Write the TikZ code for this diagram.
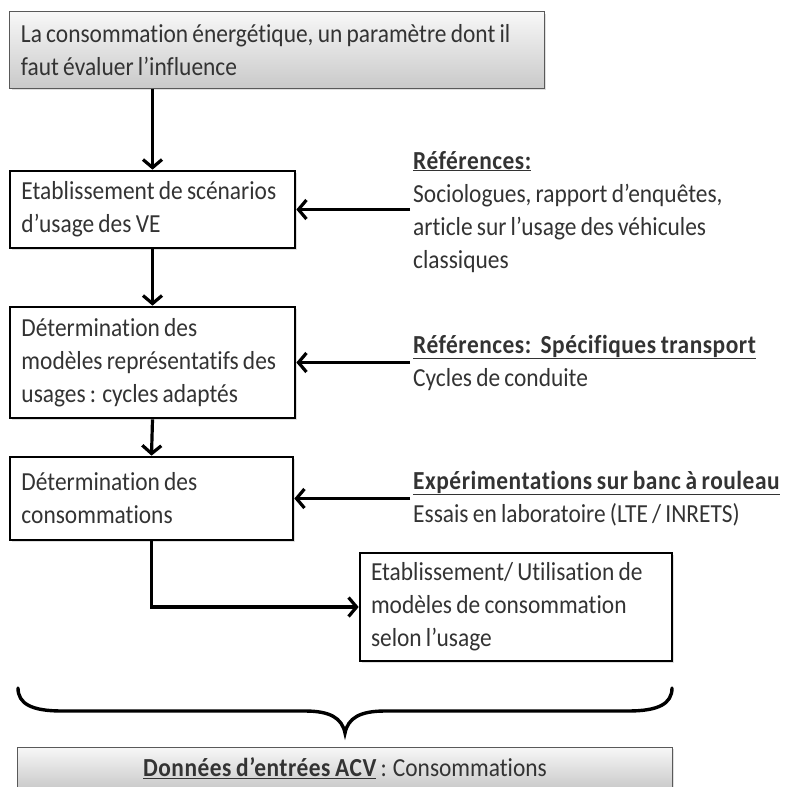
\documentclass[tikz,border=0pt]{standalone}
\usepackage{fontspec}
\setmainfont{Carlito}[FakeStretch=0.9, WordSpace=0.8, Ligatures=NoCommon]
\usetikzlibrary{arrows.meta,shadows}
\newcommand{\bfwide}[1]{{\bfseries\addfontfeatures{LetterSpace=2}#1}}
\begin{document}
\begin{tikzpicture}[x=1bp,y=-1bp,
  txt/.style={font=\fontsize{26bp}{33bp}\selectfont, text=black!80},
  boxshadow/.style={drop shadow={shadow xshift=2bp, shadow yshift=-2bp, opacity=0.25}},
  whitebox/.style={txt, rectangle, draw=black, line width=2.7bp, fill=white, align=flush left,
    inner xsep=11bp, inner ysep=0bp, boxshadow},
  graybox/.style={txt, rectangle, draw=black!65, line width=1bp, top color=gray!6, bottom color=gray!42,
    inner xsep=11bp, inner ysep=0bp, boxshadow},
  arr/.style={line width=3.2bp, draw=black, -{Straight Barb[length=8bp,width=19bp]}},
  note/.style={txt, align=flush left, inner sep=0pt, anchor=base west}
]
\clip (0,0) rectangle (787,787);
\fill[white] (0,0) rectangle (787,787);

% top box
\node[graybox, align=flush left, minimum width=534bp, minimum height=76bp, text width=512bp] (top) at (277,50)
  {La consommation énergétique, un paramètre dont il\\faut évaluer l’influence};

% main column
\node[whitebox, minimum width=285bp, minimum height=77bp, text width=262bp] (b1) at (152.5,209.5)
  {Etablissement de scénarios\\d’usage des VE};
\node[whitebox, minimum width=285bp, minimum height=111bp, text width=262bp] (b2) at (152.5,362.5)
  {Détermination des\\modèles représentatifs des\\usages : cycles adaptés};
\node[whitebox, minimum width=283bp, minimum height=83bp, text width=260bp] (b3) at (151.5,498.5)
  {Détermination des\\consommations};
\node[whitebox, minimum width=312bp, minimum height=108bp, text width=290bp] (b4) at (516,607)
  {Etablissement/ Utilisation de\\modèles de consommation\\selon l’usage};

% notes (anchored at the baseline of their last line)
\node[note] (n1) at (413,268)
  {\underline{\bfwide{Références:}}\\Sociologues, rapport d’enquêtes,\\article sur l’usage des véhicules\\classiques};
\node[note] (n2) at (413,386)
  {\underline{\bfwide{Références:\ \ Spécifiques transport}}\\Cycles de conduite};
\node[note] (n3) at (413,522)
  {\underline{\bfwide{Expérimentations sur banc à rouleau}}\\Essais en laboratoire (LTE / INRETS)};

\coordinate (r1) at (410,209.5);
\coordinate (r2) at (410,362.5);
\coordinate (r3) at (410,498.5);

% connectors
\draw[arr] (b1.north |- top.south) -- (b1.north);
\draw[arr] (b1.south) -- (b2.north);
\draw[arr] (b2.south) -- (b3.north);
\draw[arr] (b3.south) |- (b4.west);
\draw[arr] (r1) -- (b1.east);
\draw[arr] (r2) -- (b2.east);
\draw[arr] (r3) -- (b3.east);

% brace
\draw[line width=3.4bp, line cap=round]
  (18,688) .. controls (18,704) and (32,711) .. (62,711) -- (305,711)
  .. controls (330,711) and (342,718) .. (345,733)
  .. controls (348,718) and (360,711) .. (385,711) -- (628,711)
  .. controls (658,711) and (672,704) .. (672,688);

% bottom box
\node[graybox, minimum width=654bp, minimum height=42bp] (bot) at (345,768)
  {\underline{\bfwide{Données d’entrées ACV}} : Consommations};
\end{tikzpicture}
\end{document}
